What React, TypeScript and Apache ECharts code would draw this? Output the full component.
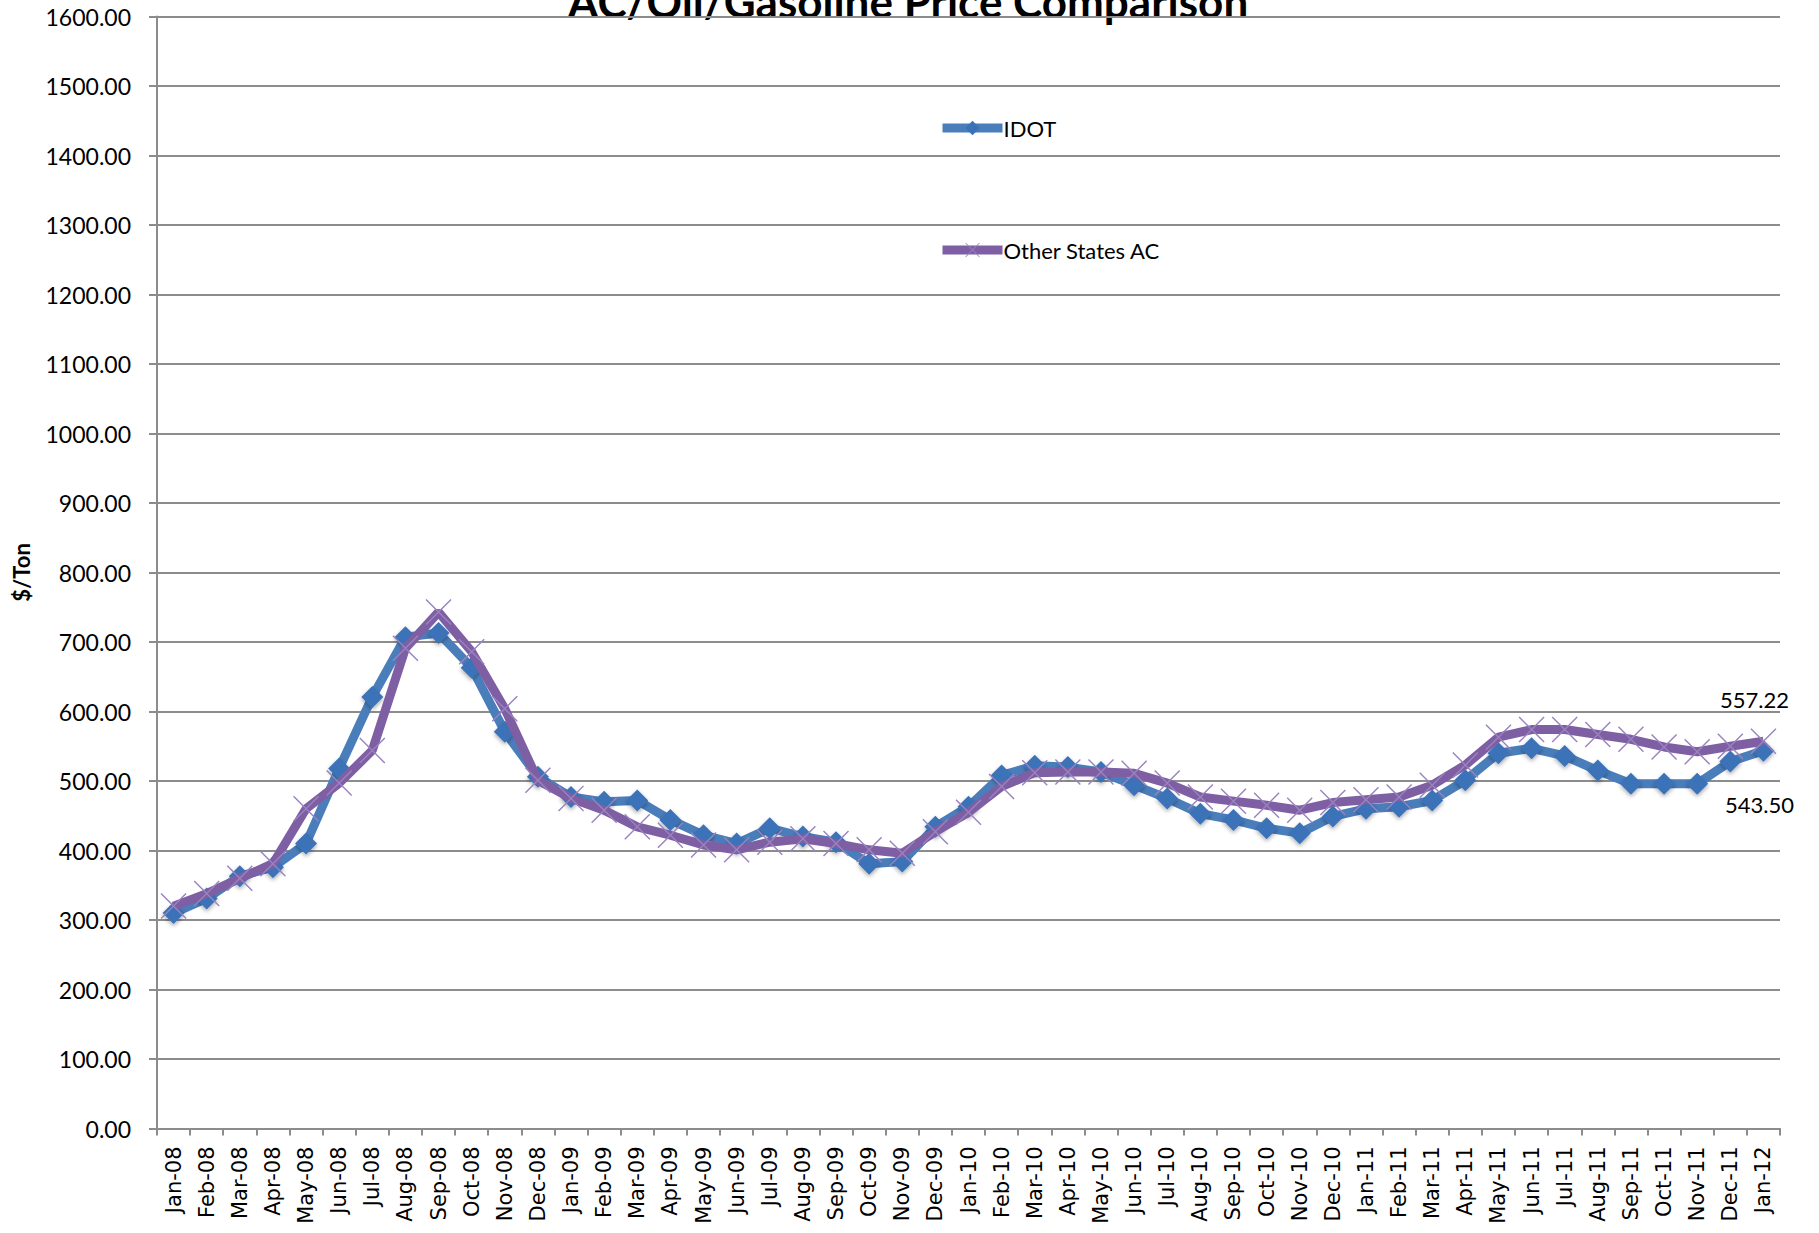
import React, { useEffect, useRef } from "react";
import * as echarts from "echarts";

const categories = [
  "Jan-08", "Feb-08", "Mar-08", "Apr-08", "May-08", "Jun-08", "Jul-08", "Aug-08", "Sep-08", "Oct-08", "Nov-08", "Dec-08",
  "Jan-09", "Feb-09", "Mar-09", "Apr-09", "May-09", "Jun-09", "Jul-09", "Aug-09", "Sep-09", "Oct-09", "Nov-09", "Dec-09",
  "Jan-10", "Feb-10", "Mar-10", "Apr-10", "May-10", "Jun-10", "Jul-10", "Aug-10", "Sep-10", "Oct-10", "Nov-10", "Dec-10",
  "Jan-11", "Feb-11", "Mar-11", "Apr-11", "May-11", "Jun-11", "Jul-11", "Aug-11", "Sep-11", "Oct-11", "Nov-11", "Dec-11",
  "Jan-12",
];

const idotValues = [
  310, 331, 363, 376, 410, 518, 621, 707, 713, 663, 571, 506,
  477, 470, 472, 444, 422, 410, 432, 420, 412, 381, 384, 434,
  463, 508, 522, 520, 513, 494, 475, 453, 444, 432, 425, 449,
  460, 463, 472, 501, 540, 547, 536, 515, 496, 496, 496, 528,
  543.5,
];

const otherStatesValues = [
  320, 338, 360, 381, 460, 497, 544, 691, 743, 686, 604, 501,
  475, 458, 434, 422, 408, 401, 412, 417, 410, 401, 396, 427,
  455, 492, 512, 513, 513, 511, 497, 477, 471, 465, 458, 469,
  473, 477, 494, 523, 563, 574, 574, 567, 560, 549, 542, 550,
  557.22,
];

const yTicks = { min: 0, max: 1600, interval: 100 };
const titleText = "AC/Oil/Gasoline Price Comparison";
const seriesNames = ["IDOT", "Other States AC"];

const X_SYMBOL =
  "path://M0,1 L1,0 L26,25 L25,26 Z M0,25 L25,0 L26,1 L1,26 Z";

function withLastLabel(values: number[], label: any) {
  return values.map((v, i) =>
    i === values.length - 1 ? { value: v, label: { show: true, ...label } } : v
  );
}

export default function App() {
  const ref = useRef<HTMLDivElement>(null);
  useEffect(() => {
    if (!ref.current) return;
    const chart = echarts.init(ref.current, null, { renderer: "svg" });
    const labelFont = {
      fontFamily: "Lato",
      fontSize: 22,
      color: "#000",
      formatter: (p: any) => Number(p.value).toFixed(2),
    };
    chart.setOption({
      animation: false,
      backgroundColor: "#ffffff",
      graphic: [
        {
          type: "text",
          x: 908,
          y: 23,
          style: {
            text: titleText,
            font: "bold 44px Lato",
            fill: "#000",
            textAlign: "center",
            textVerticalAlign: "bottom",
          },
        },
      ],
      legend: {
        orient: "vertical",
        left: 933,
        top: 112,
        itemWidth: 60,
        itemHeight: 18,
        itemGap: 100,
        lineStyle: { width: 9 },
        textStyle: { fontFamily: "Lato", fontSize: 22, color: "#000", padding: [0, 0, 0, -4] },
        data: seriesNames,
      },
      grid: { left: 157, right: 39, top: 16.5, bottom: 104.5, containLabel: false },
      xAxis: {
        type: "category",
        data: categories,
        boundaryGap: true,
        axisLine: { show: true, lineStyle: { color: "#8c8c8c", width: 2 } },
        axisTick: { show: true, length: 7, interval: 0, alignWithLabel: false, lineStyle: { color: "#8c8c8c", width: 2 } },
        axisLabel: {
          rotate: 90,
          interval: 0,
          margin: 18,
          fontFamily: "DejaVu Sans",
          fontSize: 21,
          color: "#000",
        },
        splitLine: { show: false },
      },
      yAxis: {
        type: "value",
        min: yTicks.min,
        max: yTicks.max,
        interval: yTicks.interval,
        name: "$/Ton",
        nameLocation: "middle",
        nameGap: 125,
        nameRotate: 90,
        nameTextStyle: { fontFamily: "Lato", fontWeight: "bold", fontSize: 22, color: "#000" },
        axisLine: { show: true, lineStyle: { color: "#8c8c8c", width: 2 } },
        axisTick: { show: true, length: 8, lineStyle: { color: "#8c8c8c", width: 2 } },
        axisLabel: {
          margin: 26,
          fontFamily: "Lato",
          fontSize: 23,
          color: "#000",
          formatter: (v: number) => v.toFixed(2),
        },
        splitLine: { show: true, lineStyle: { color: "#8c8c8c", width: 2 } },
      },
      series: [
        {
          name: seriesNames[0],
          type: "line",
          data: withLastLabel(idotValues, { ...labelFont, position: "bottom", distance: 32, offset: [-4, 0] }),
          symbol: "diamond",
          symbolSize: 22,
          showAllSymbol: true,
          lineStyle: { color: "#4a7ebb", width: 9 },
          itemStyle: {
            color: "#3a72b8",
            shadowBlur: 4,
            shadowColor: "rgba(0,0,0,0.35)",
            shadowOffsetY: 2,
          },
          z: 2,
        },
        {
          name: seriesNames[1],
          type: "line",
          data: withLastLabel(otherStatesValues, { ...labelFont, position: "top", distance: 18, offset: [-9, 0] }),
          symbol: X_SYMBOL,
          symbolSize: 26,
          showAllSymbol: true,
          lineStyle: { color: "#7f5fa3", width: 9 },
          itemStyle: { color: "#9a82c0" },
          z: 3,
        },
      ],
    });
    return () => chart.dispose();
  }, []);
  return (
    <div
      ref={ref}
      style={{ position: "fixed", left: 0, top: 0, width: 1819, height: 1233, background: "#fff" }}
    />
  );
}
